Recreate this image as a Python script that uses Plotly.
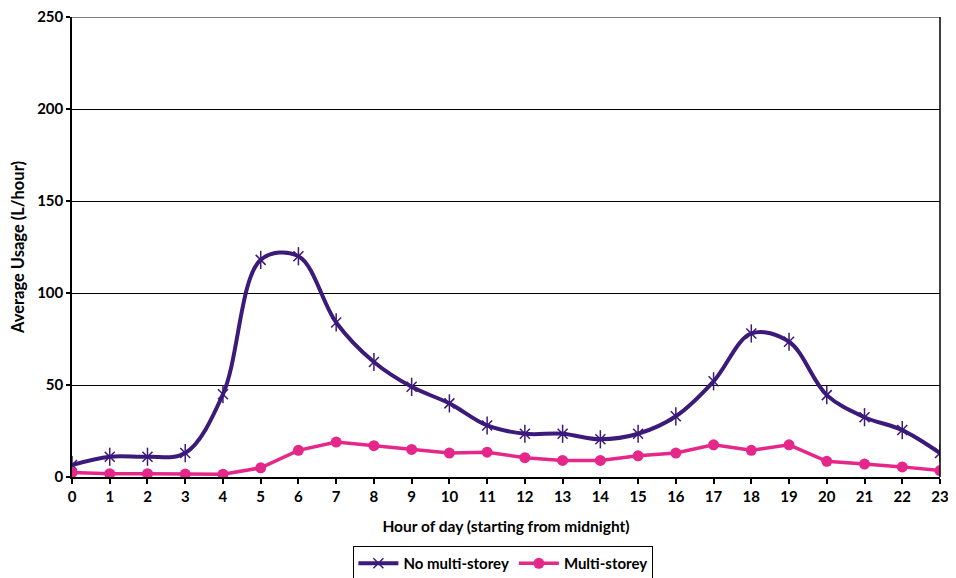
import plotly.graph_objects as go

hours = list(range(24))
no_multi = [6.5, 11, 11, 13, 45, 118, 120, 84, 62.5, 49, 40, 28, 23.5, 23.5, 20.5, 23.5, 33, 52, 78, 73.5, 44.5, 32.5, 25.5, 13]
multi = [2.5, 1.8, 1.8, 1.6, 1.5, 5, 14.5, 19, 17, 15, 13, 13.5, 10.5, 9, 9, 11.5, 13, 17.5, 14.5, 17.5, 8.5, 7, 5.5, 3.5]
y_ticks = [0, 50, 100, 150, 200, 250]

PURPLE = "#3c1a7a"
PINK = "#e5278a"
FONT = "Lato"

fig = go.Figure()
fig.add_trace(go.Scatter(
    x=hours, y=no_multi, name="No multi-storey", mode="lines+markers",
    legendgroup="a",
    line=dict(color=PURPLE, width=4, shape="spline", smoothing=1.0),
    marker=dict(symbol="x-thin-open", size=10, line=dict(color=PURPLE, width=1.5), color=PURPLE),
))
fig.add_trace(go.Scatter(
    x=hours, y=no_multi, mode="markers", showlegend=False, legendgroup="a", hoverinfo="skip",
    marker=dict(symbol="line-ns-open", size=13, line=dict(color=PURPLE, width=1.5), color=PURPLE),
))
fig.add_trace(go.Scatter(
    x=hours, y=multi, name="Multi-storey", mode="lines+markers",
    line=dict(color=PINK, width=3.5),
    marker=dict(symbol="circle", size=11, color=PINK),
))

fig.update_layout(
    width=948, height=570,
    margin=dict(l=64, r=16, t=9, b=101),
    paper_bgcolor="white", plot_bgcolor="white",
    font=dict(family=FONT, size=15, color="black"),
    showlegend=True,
    legend=dict(
        orientation="h", x=0.497, xanchor="center", yref="container", y=0.056, yanchor="top",
        bordercolor="black", borderwidth=1, font=dict(family=FONT, size=15, color="black", weight="bold"),
        tracegroupgap=0, itemwidth=40,
    ),
    xaxis=dict(
        range=[0, 23], tickmode="array", tickvals=hours, ticktext=[str(h) for h in hours],
        showgrid=False, showline=True, linecolor="black", linewidth=1.5,
        ticks="outside", ticklen=5, tickcolor="black", tickwidth=1.5,
        tickfont=dict(family=FONT, size=15, weight="bold"),
        mirror=False, zeroline=False, automargin=False, ticklabeloverflow="allow",
        title=dict(text="Hour of day (starting from midnight)", font=dict(family=FONT, size=15.5, weight="bold"), standoff=17),
    ),
    yaxis=dict(
        range=[0, 250], tickmode="array", tickvals=y_ticks,
        showgrid=True, gridcolor="black", gridwidth=1,
        showline=True, linecolor="black", linewidth=1.5,
        ticks="outside", ticklen=4, tickcolor="black", tickwidth=1.5,
        tickfont=dict(family=FONT, size=15, weight="bold"),
        zeroline=False, automargin=False, ticklabeloverflow="allow",
        title=dict(text="Average Usage (L/hour)", font=dict(family=FONT, size=16.5, weight="bold"), standoff=12),
    ),
)
# right border line and top gridline
fig.add_shape(type="line", xref="paper", yref="paper", x0=1, x1=1, y0=0, y1=1,
              line=dict(color="black", width=1.5))
fig.add_shape(type="line", xref="paper", yref="y", x0=0, x1=1, y0=y_ticks[-1], y1=y_ticks[-1],
              line=dict(color="black", width=1.2))

fig.write_html("out.html")
